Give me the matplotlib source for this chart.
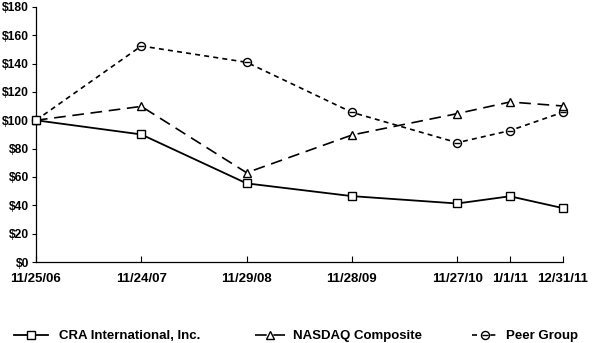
import matplotlib
matplotlib.use("Agg")
import matplotlib.pyplot as plt
from matplotlib.path import Path

dates = ["11/25/06", "11/24/07", "11/29/08", "11/28/09", "11/27/10", "1/1/11", "12/31/11"]
x_pos = [0, 1, 2, 3, 4, 4.5, 5]
cra = [100, 90, 55.5, 46.5, 41.3, 46.4, 38.1]
nasdaq = [100, 109.8, 63, 89.6, 104.7, 112.9, 110.1]
peer = [100, 152.4, 140.9, 105.6, 84.2, 92.7, 105.6]
yticks = list(range(0, 181, 20))

plt.rcParams["font.family"] = ["Liberation Sans", "DejaVu Sans"]
plt.rcParams["font.weight"] = "bold"

# circle with a bar through it, like the original peer marker
theta_mark = Path.make_compound_path(Path.unit_circle(),
                                     Path([(-0.75, 0), (0.75, 0)]))

fig = plt.figure(figsize=(6.13, 3.43), dpi=100)
ax = fig.add_axes([0.0587, 0.236, 0.859, 0.744])

style = dict(color="black", mfc="white", mec="black", mew=1.0, ms=5.8, clip_on=False)
l_peer, = ax.plot(x_pos, peer, lw=1.2, ls=(0, (3, 2.5)), marker=theta_mark,
                  label="Peer Group", zorder=2, **style)
l_nas, = ax.plot(x_pos, nasdaq, lw=1.2, ls=(0, (7, 4)), marker="^",
                 label="NASDAQ Composite", zorder=3, **style)
l_cra, = ax.plot(x_pos, cra, lw=1.3, ls="-", marker="s",
                 label="CRA International, Inc.", zorder=4, **style)

ax.set_xlim(0, 5)
ax.set_ylim(0, 180)
ax.set_yticks(yticks)
ax.set_yticklabels([f"${v}" for v in yticks])
ax.set_xticks(x_pos)
ax.set_xticklabels(dates)
ax.tick_params(axis="y", direction="out", length=3, width=0.8, labelsize=8.7, pad=2)
ax.tick_params(axis="x", direction="in", length=4, width=0.8, labelsize=9.5, pad=8)
for s in ("top", "right"):
    ax.spines[s].set_visible(False)
for s in ("left", "bottom"):
    ax.spines[s].set_linewidth(0.9)

for line, x0, hl, tp in ((l_cra, 0.023, 2.6, 0.8), (l_nas, 0.416, 2.3, 0.6),
                         (l_peer, 0.770, 2.0, 0.6)):
    fig.legend([line], [line.get_label()], loc="center left",
               bbox_to_anchor=(x0, 0.02), frameon=False, fontsize=9.5,
               handlelength=hl, handletextpad=tp, borderpad=0,
               borderaxespad=0)

fig.savefig("out.png", dpi=100)
